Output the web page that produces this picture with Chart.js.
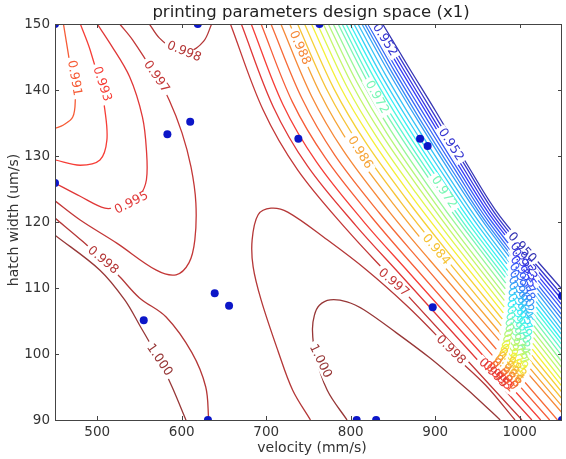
<!DOCTYPE html>
<html lang="en">
<head>
<meta charset="UTF-8">
<title>printing parameters design space</title>
<script src="https://cdn.jsdelivr.net/npm/chart.js@4.4.1/dist/chart.umd.min.js"></script>
<style>
  body { margin: 0; background: #fff; }
  canvas { display: block; }
</style>
</head>
<body>
<canvas id="chart" width="566" height="459"></canvas>
<script>
// axis ticks
const xTicks = [500, 600, 700, 800, 900, 1000];
const yTicks = [90, 100, 110, 120, 130, 140, 150];

// sampled design points (velocity, hatch width)
const samplePoints = [
  [450, 150], [619, 150], [763, 150], [583, 133.3], [610, 135.2], [738, 132.6],
  [450, 125.9], [882, 132.6], [891, 131.5], [555, 105.1], [639, 109.2], [656, 107.3],
  [897, 107.1], [631, 90], [807, 90], [830, 90], [1050, 108.8], [1050, 90]
];

// contour lines, [velocity, hatch width]
const c0991 = [[460,150],[467,144.5],[472,140.5],[474,138.5],[471,135.9],[460,134.7],[450,134.2]];
const c0993 = [[480,150],[491.5,146.1],[503.2,140.8],[509,137.0],[511.4,132.4],[503.2,129.4],[479.8,128.6],[450,129.4]];
const c0995 = [[500,150],[514.9,147.1],[538.3,142.0],[553.5,135.9],[558.2,130.9],[558.2,126.4],[550,123.8],[540.6,122.9],[526.6,122.3],[509,122.1],[479.8,123.9],[450,125.9]];
const c0997 = [[526.6,150],[541.8,147.6],[569.9,142.0],[585.1,138.5],[600.3,133.5],[611,128.3],[616.7,122.9],[615.5,117.3],[608.5,113.8],[593.3,112.0],[569.9,112.7],[523.1,116.8],[479.8,120.3],[450,123.2]];
const c0998top = [[561.7,150],[573.4,147.9],[591,146.2],[608.5,145.8],[626,147.4],[635.4,150]];
const c0998left = [[450,120.6],[483.3,117.0],[506.7,114.2],[526.6,111.7],[550,108.5],[581.5,105.6],[612,100.2],[628.4,95.0],[631.9,90]];
const c1000left = [[450,118.0],[503.2,112.7],[532.5,108.2],[550,104.4],[573.4,99.1],[588.6,95.0],[605,90]];
const c0998mid = [[752.3,90],[731.3,94.5],[713.8,100.5],[693.9,108.2],[684.5,113.2],[683.3,117.3],[690.4,121.1],[705.6,122.1],[725.4,121.5],[772.2,117.3],[819.0,112.7],[865.8,107.4],[900.9,102.9],[918.4,100.3],[959.4,95.3],[994.4,90]];
const c1000mid = [[795.6,90],[772.2,94.5],[758.2,99.8],[754.7,103.6],[757.0,105.9],[762.9,107.4],[775.7,108.2],[795.6,107.9],[815.5,106.7],[854.1,103.2],[892.7,99.5],[920.8,96.5],[947.7,93.5],[976.9,90]];

const sideLevels = [0.991, 0.993, 0.995, 0.997, 0.998, 0.998, 1.000, 0.998, 1.000];
const sideLines = [c0991, c0993, c0995, c0997, c0998top, c0998left, c1000left, c0998mid, c1000mid];

// the dense band on the right
const bandLevels = [0.997, 0.995, 0.993, 0.991, 0.990, 0.988, 0.986, 0.984, 0.983, 0.981,
  0.979, 0.977, 0.976, 0.974, 0.972, 0.970, 0.969, 0.967, 0.965, 0.964,
  0.962, 0.960, 0.958, 0.957, 0.955, 0.953, 0.952, 0.950];
const bandLines = [
  [[657.6,150],[696.2,137.0],[737.1,127.9],[795.6,118.8],[850.6,111.2],[1002.6,90]],
  [[670.5,150],[708.5,137.4],[748.7,128.5],[805.8,119.5],[859.6,111.9],[1014.3,90]],
  [[682.2,150],[719.7,137.8],[759.4,129.1],[815.0,120.1],[867.8,112.5],[1024.8,90]],
  [[693.9,150],[730.9,138.2],[770.0,129.7],[824.3,120.8],[876.0,113.1],[1035.4,90]],
  [[705.6,150],[742.3,138.7],[780.7,130.2],[833.6,121.4],[884.2,113.8],[1044.7,90]],
  [[717.3,150],[753.5,139.1],[791.3,130.8],[842.9,122.0],[892.4,114.4],[1050,91.1]],
  [[727.8,150],[763.7,139.5],[801.0,131.3],[851.3,122.6],[899.8,114.9],[1050,92.1]],
  [[737.1,150],[772.7,139.8],[809.5,131.8],[858.7,123.1],[906.4,115.4],[1050,93.2]],
  [[745.3,150],[780.5,140.1],[816.9,132.2],[865.1,123.6],[912.1,115.9],[1050,94.2]],
  [[753.5,150],[788.3,140.3],[824.3,132.6],[871.5,124.0],[917.8,116.3],[1050,95.1]],
  [[760.5,150],[795.0,140.6],[830.6,132.9],[877.2,124.4],[922.8,116.7],[1050,96.0]],
  [[767.5,150],[801.8,140.8],[837.0,133.2],[882.6,124.8],[927.7,117.0],[1050,97.0]],
  [[773.4,150],[807.6,141.1],[842.4,133.5],[887.3,125.1],[931.8,117.3],[1050,97.9]],
  [[779.2,150],[813.1,141.3],[847.7,133.8],[892.0,125.4],[935.9,117.7],[1050,98.8]],
  [[785.1,150],[818.8,141.5],[853.1,134.1],[896.7,125.8],[940.1,118.0],[1050,99.7]],
  [[789.8,150],[823.2,141.6],[857.4,134.3],[900.3,126.0],[943.3,118.2],[1050,100.6]],
  [[794.5,150],[827.8,141.8],[861.6,134.6],[904.1,126.3],[946.6,118.5],[1050,101.4]],
  [[799.1,150],[832.2,142.0],[865.8,134.8],[907.8,126.5],[949.9,118.7],[1050,102.1]],
  [[803.8,150],[836.8,142.1],[870.1,135.0],[911.5,126.8],[953.2,119.0],[1050,102.9]],
  [[808.5,150],[841.2,142.3],[874.3,135.2],[915.2,127.0],[956.5,119.2],[1050,103.6]],
  [[813.2,150],[845.8,142.5],[878.7,135.5],[918.9,127.3],[959.7,119.5],[1050,104.4]],
  [[816.7,150],[849.1,142.6],[881.7,135.6],[921.6,127.5],[962.2,119.6],[1050,105.2]],
  [[820.2,150],[852.5,142.7],[885.0,135.8],[924.5,127.7],[964.6,119.8],[1050,105.9]],
  [[823.7,150],[855.9,142.8],[888.1,136.0],[927.2,127.9],[967.1,120.0],[1050,106.7]],
  [[827.2,150],[859.2,143.0],[891.4,136.2],[930.0,128.1],[969.6,120.2],[1050,107.4]],
  [[830.7,150],[862.5,143.1],[894.5,136.3],[932.7,128.3],[972.0,120.4],[1050,108.2]],
  [[834.2,150],[866.0,143.2],[897.7,136.5],[935.6,128.5],[974.6,120.6],[1050,108.9]],
  [[837.7,150],[869.3,143.3],[900.9,136.7],[938.3,128.6],[976.9,120.8],[1050,109.8]]
];

// inline contour labels: text, velocity, hatch width, rotation (deg)
const contourLabels = [
  ['0.991', 472.8, 141.8, 80], ['0.993', 505.6, 140.9, 72], ['0.995', 540.6, 122.9, -27],
  ['0.997', 569.9, 142.0, 55], ['0.998', 602.6, 145.8, 22], ['0.998', 506.7, 114.2, 40],
  ['1.000', 573.4, 99.1, 56], ['1.000', 764.0, 98.9, 64], ['0.997', 850.6, 110.8, 41],
  ['0.998', 918.4, 100.6, 45], ['0.988', 739.5, 146.4, 66], ['0.986', 810.8, 130.5, 58],
  ['0.984', 900.9, 115.8, 50], ['0.972', 830.7, 138.9, 61], ['0.972', 910.2, 124.5, 56],
  ['0.952', 840.1, 147.6, 58], ['0.952', 918.4, 131.7, 57], ['0.950', 1002.6, 116.1, 48],
  ['0.952', 1003.8, 114.5, 55], ['0.953', 1005.0, 113.5, 55], ['0.955', 1003.8, 112.4, 55],
  ['0.957', 1002.6, 111.4, 55], ['0.958', 1002.6, 110.3, 55], ['0.960', 1001.5, 109.4, 55],
  ['0.962', 1001.5, 108.5, 55], ['0.964', 1000.3, 107.6, 55], ['0.965', 1000.3, 106.7, 55],
  ['0.967', 999.1, 105.8, 55], ['0.969', 999.1, 104.8, 55], ['0.970', 997.9, 103.9, 55],
  ['0.972', 996.8, 103.0, 55], ['0.974', 996.8, 102.1, 55], ['0.976', 995.6, 101.4, 52],
  ['0.977', 994.4, 100.6, 52], ['0.979', 993.2, 99.8, 50], ['0.981', 992.1, 99.2, 50],
  ['0.983', 990.9, 98.6, 48], ['0.984', 988.6, 98.0, 48], ['0.986', 986.2, 97.6, 45],
  ['0.988', 983.9, 97.1, 45], ['0.990', 980.4, 96.7, 45], ['0.991', 976.9, 96.4, 45],
  ['0.993', 973.4, 96.7, 45], ['0.995', 968.7, 97.1, 45]
];

// jet colormap, washed out a little like the picture
function jetColor(v) {
  var t = (v - 0.948) / (1.0 - 0.948);
  t = Math.min(1, Math.max(0, t));
  function c(a) { return Math.round(Math.min(1, Math.max(0, a)) * 255 * 0.75 + 55); }
  var r = c(1.5 - Math.abs(4 * t - 3));
  var g = c(1.5 - Math.abs(4 * t - 2));
  var b = c(1.5 - Math.abs(4 * t - 1));
  return 'rgb(' + r + ',' + g + ',' + b + ')';
}

function lineSet(pts, level) {
  return {
    data: pts.map(p => ({ x: p[0], y: p[1] })),
    showLine: true,
    borderColor: jetColor(level),
    borderWidth: 1.3,
    pointRadius: 0,
    pointHoverRadius: 0,
    tension: 0.35,
    fill: false,
    clip: 0
  };
}

var datasets = [{
  data: samplePoints.map(p => ({ x: p[0], y: p[1] })),
  pointRadius: 4,
  pointHoverRadius: 4,
  backgroundColor: 'rgb(12,22,200)',
  borderWidth: 0,
  showLine: false,
  clip: 0
}];
sideLines.forEach((pts, i) => datasets.push(lineSet(pts, sideLevels[i])));
bandLines.forEach((pts, i) => datasets.push(lineSet(pts, bandLevels[i])));

const FONT = '"DejaVu Sans", sans-serif';
Chart.defaults.font.family = FONT;

function drawLabels(chart) {
  var ctx = chart.ctx, a = chart.chartArea;
  var xs = chart.scales.x, ys = chart.scales.y;
  ctx.save();
  ctx.beginPath();
  ctx.rect(a.left, a.top, a.right - a.left, a.bottom - a.top);
  ctx.clip();
  ctx.font = '12.5px ' + FONT;
  ctx.textAlign = 'center';
  ctx.textBaseline = 'middle';
  // first cut the lines, then write the texts
  contourLabels.forEach(l => {
    var w = ctx.measureText(l[0]).width;
    ctx.save();
    ctx.translate(xs.getPixelForValue(l[1]), ys.getPixelForValue(l[2]));
    ctx.rotate(l[3] * Math.PI / 180);
    ctx.fillStyle = '#fff';
    ctx.fillRect(-w / 2 - 3, -5.5, w + 6, 11);
    ctx.restore();
  });
  contourLabels.forEach(l => {
    ctx.save();
    ctx.translate(xs.getPixelForValue(l[1]), ys.getPixelForValue(l[2]));
    ctx.rotate(l[3] * Math.PI / 180);
    ctx.fillStyle = jetColor(parseFloat(l[0]));
    ctx.fillText(l[0], 0, 0);
    ctx.restore();
  });
  ctx.restore();
}

const framePlugin = {
  id: 'frame',
  beforeDatasetDraw(chart, args) {
    if (args.index === 0) drawLabels(chart);
  },
  afterDraw(chart) {
    var ctx = chart.ctx, a = chart.chartArea;
    var xs = chart.scales.x, ys = chart.scales.y;
    ctx.save();
    ctx.strokeStyle = '#444';
    ctx.lineWidth = 1;
    ctx.strokeRect(a.left + 0.5, a.top + 0.5, a.right - a.left - 1, a.bottom - a.top);
    ctx.beginPath();
    xTicks.forEach(v => {
      var x = Math.round(xs.getPixelForValue(v)) + 0.5;
      ctx.moveTo(x, a.bottom); ctx.lineTo(x, a.bottom - 4);
      ctx.moveTo(x, a.top); ctx.lineTo(x, a.top + 4);
    });
    yTicks.forEach(v => {
      var y = Math.round(ys.getPixelForValue(v)) + 0.5;
      ctx.moveTo(a.left, y); ctx.lineTo(a.left + 4, y);
      ctx.moveTo(a.right, y); ctx.lineTo(a.right - 4, y);
    });
    ctx.stroke();

    ctx.fillStyle = '#222';
    ctx.textAlign = 'center';
    ctx.textBaseline = 'middle';
    ctx.font = '16.5px ' + FONT;
    ctx.fillText('printing parameters design space (x1)', 311, 13);
    ctx.fillStyle = '#333';
    ctx.font = '14px ' + FONT;
    ctx.fillText('velocity (mm/s)', 312, 448);
    ctx.translate(14, 220);
    ctx.rotate(-Math.PI / 2);
    ctx.fillText('hatch width (um/s)', 0, 0);
    ctx.restore();
  }
};

new Chart(document.getElementById('chart').getContext('2d'), {
  type: 'scatter',
  data: { datasets: datasets },
  options: {
    responsive: false,
    animation: false,
    events: [],
    layout: { padding: { top: 24, left: 0, right: 0, bottom: 0 } },
    plugins: { legend: { display: false }, tooltip: { enabled: false }, title: { display: false } },
    scales: {
      x: {
        type: 'linear', min: 450, max: 1050,
        grid: { display: false, drawTicks: false },
        border: { display: false },
        ticks: { color: '#333', font: { size: 13.5 }, padding: 4, maxRotation: 0, callback: v => String(v) },
        afterBuildTicks: s => { s.ticks = xTicks.map(v => ({ value: v })); },
        afterFit: s => { s.height = 39; }
      },
      y: {
        type: 'linear', min: 90, max: 150,
        grid: { display: false, drawTicks: false },
        border: { display: false },
        ticks: { color: '#333', font: { size: 13.5 }, padding: 5, callback: v => String(v) },
        afterBuildTicks: s => { s.ticks = yTicks.map(v => ({ value: v })); },
        afterFit: s => { s.width = 55; }
      }
    }
  },
  plugins: [framePlugin]
});
</script>
</body>
</html>
